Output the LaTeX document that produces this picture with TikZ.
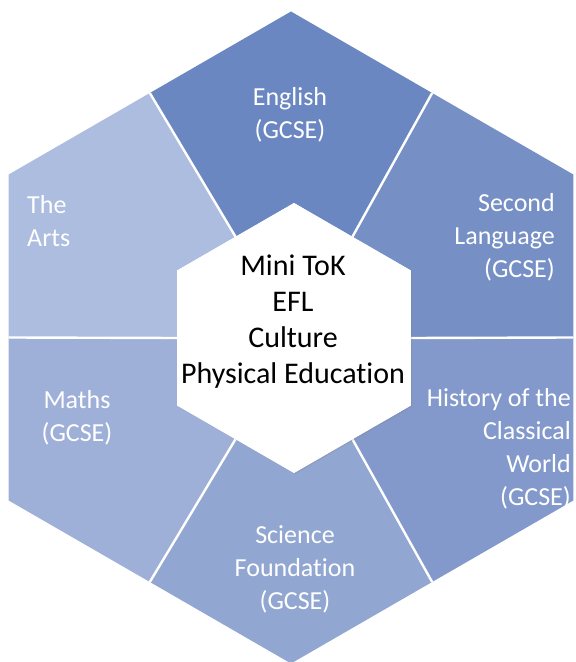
\documentclass[tikz,border=0pt]{standalone}
\usepackage{fontspec}
\setmainfont{Carlito}[Ligatures=NoCommon]
\usepackage{tikz}
\usetikzlibrary{shapes, positioning, calc, shadows}

\definecolor{segA}{HTML}{6B87C1}
\definecolor{segB}{HTML}{7690C6}
\definecolor{segC}{HTML}{8399CB}
\definecolor{segD}{HTML}{91A6D1}
\definecolor{segE}{HTML}{9FB0D8}
\definecolor{segF}{HTML}{ADBDE0}

\begin{document}
\begin{tikzpicture}
  [
    x=1pt, y=1pt,
    Label/.style={text=white, font=\fontsize{26}{33}\selectfont, inner sep=0pt},
    Core/.style={text=black, font=\fontsize{30}{36}\selectfont, align=center, inner sep=0pt},
    Divider/.style={draw=white, line width=2.4pt},
    Hub/.style={fill=white, drop shadow={shadow xshift=1.5pt, shadow yshift=-1pt, opacity=0.2}}
  ]
  \useasboundingbox (0,0) rectangle (576,662);

  % Corners
  \coordinate (oc) at (291,324.5);
  \coordinate (ic) at (294,324);
  \foreach \a in {30,90,...,330} {
    \coordinate (V\a) at ($(oc)+(\a:326)$);
    \coordinate (v\a) at ($(ic)+(\a:135)$);
  }
  \foreach \a in {0,60,...,300} {
    \coordinate (M\a) at ($(oc)+(\a:282.3)$);
    \coordinate (m\a) at ($(ic)+(\a:116.9)$);
  }

  % Segments
  \fill[segA] (m60) -- (M60) -- (V90) -- (M120) -- (m120) -- (v90) -- cycle;
  \fill[segB] (m0) -- (M0) -- (V30) -- (M60) -- (m60) -- (v30) -- cycle;
  \fill[segC] (m300) -- (M300) -- (V330) -- (M0) -- (m0) -- (v330) -- cycle;
  \fill[segD] (m240) -- (M240) -- (V270) -- (M300) -- (m300) -- (v270) -- cycle;
  \fill[segE] (m180) -- (M180) -- (V210) -- (M240) -- (m240) -- (v210) -- cycle;
  \fill[segF] (m120) -- (M120) -- (V150) -- (M180) -- (m180) -- (v150) -- cycle;

  % Lines
  \foreach \a in {0,60,...,300}
    \path[Divider] (M\a) -- (m\a);

  % Hub
  \path[Hub] (v30) -- (v90) -- (v150) -- (v210) -- (v270) -- (v330) -- cycle;

  % Nodes
  \node[Core] (core) at (293,340.5) {Mini ToK\\EFL\\Culture\\Physical Education};
  \node[Label, align=center] (t1) at (290,547.5) {English\\(GCSE)};
  \node[Label, align=right, anchor=east] (t2) at (555,425) {Second\\Language\\(GCSE)};
  \node[Label, align=right, anchor=east] (t3) at (571,213) {History of the\\Classical\\World\\(GCSE)};
  \node[Label, align=center] (t4) at (295,92.5) {Science\\Foundation\\(GCSE)};
  \node[Label, align=center] (t5) at (77,244.5) {Maths\\(GCSE)};
  \node[Label, align=left, anchor=west] (t6) at (27,440.5) {The\\Arts};

\end{tikzpicture}
\end{document}
